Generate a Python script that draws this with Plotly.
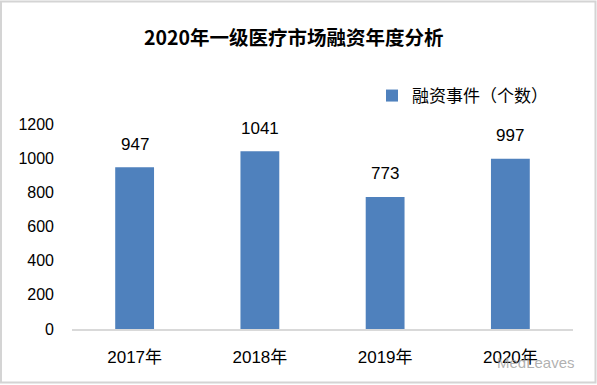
import plotly.graph_objects as go

# Data
categories = ["2017年", "2018年", "2019年", "2020年"]
values = [947, 1041, 773, 997]
series_name = "融资事件（个数）"
y_ticks = [0, 200, 400, 600, 800, 1000, 1200]
title_text = "2020年一级医疗市场融资年度分析"

W, H = 597, 385
ML, MR, MT, MB = 72, 24, 124, 56
PW = W - ML - MR
PH = H - MT - MB

def px_x(p):
    return (p - ML) / PW

def px_y(p):
    return (H - MB - p) / PH

FONT = "Liberation Sans, Noto Sans CJK SC, sans-serif"
CJK = "Noto Sans CJK SC, Liberation Sans, sans-serif"
BLUE = "#4F81BD"

fig = go.Figure()
fig.add_trace(go.Bar(
    x=categories, y=values, name=series_name,
    marker=dict(color=BLUE, line=dict(width=0)),
    width=0.31, showlegend=True, hoverinfo="skip",
))

annotations = []
for c, v in zip(categories, values):
    annotations.append(dict(
        x=c, y=v, xref="x", yref="y", text=str(v), showarrow=False,
        yanchor="middle", yshift=23,
        font=dict(family=FONT, size=17, color="#000000"),
    ))

annotations.append(dict(
    x=px_x(294), y=px_y(36), xref="paper", yref="paper",
    text="<b>" + title_text + "</b>", showarrow=False,
    xanchor="center", yanchor="middle",
    font=dict(family=CJK, size=19.5, color="#000000"),
))

annotations.append(dict(
    x=px_x(536), y=px_y(362), xref="paper", yref="paper",
    text="MedLeaves", showarrow=False,
    xanchor="center", yanchor="middle",
    font=dict(family=FONT, size=15, color="rgba(150,150,150,0.75)"),
))

shapes = [dict(
    type="rect", xref="paper", yref="paper",
    x0=px_x(1), x1=px_x(595.5), y0=px_y(382.5), y1=px_y(1.5),
    line=dict(color="#D4D4D4", width=2), fillcolor="rgba(0,0,0,0)",
    layer="above",
)]

fig.update_layout(
    width=W, height=H,
    margin=dict(l=ML, r=MR, t=MT, b=MB, pad=0),
    paper_bgcolor="white", plot_bgcolor="white",
    font=dict(family=FONT, size=16, color="#000000"),
    bargap=0.69,
    showlegend=True,
    legend=dict(
        x=px_x(372), y=px_y(96), xanchor="left", yanchor="middle",
        font=dict(family=CJK, size=17, color="#000000"),
        bgcolor="rgba(0,0,0,0)", itemwidth=30,
    ),
    xaxis=dict(
        showgrid=False, zeroline=False, showline=True,
        linecolor="#D9D9D9", linewidth=2,
        ticks="", tickfont=dict(family=FONT, size=17, color="#000000"),
        ticklabelstandoff=12,
    ),
    yaxis=dict(
        range=[0, 1200], tickvals=y_ticks, showgrid=False, zeroline=False,
        showline=False, ticks="",
        tickfont=dict(family=FONT, size=16, color="#000000"),
        ticklabelstandoff=17,
    ),
    annotations=annotations,
    shapes=shapes,
)

fig.write_html(
    "out.html",
    config={"displayModeBar": False},
    post_script="document.body.style.margin='0';document.body.style.overflow='hidden';",
)
